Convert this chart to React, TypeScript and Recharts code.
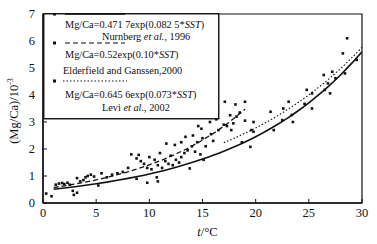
import React from 'react';
import { ComposedChart, Line, Scatter, XAxis, YAxis, ReferenceArea, Legend } from 'recharts';

const FONT = '"Liberation Serif", "DejaVu Serif", serif';

const xTicks = [0, 5, 10, 15, 20, 25, 30];
const yTicks = [0, 1, 2, 3, 4, 5, 6, 7];

// Nurnberg et al., 1996 (solid)
const nurnbergT = [1, 2, 3, 4, 5, 6, 7, 8, 9, 10, 11, 12, 13, 14, 15, 16, 17, 18, 19, 20, 21, 22, 23, 24, 25, 26, 27, 28, 29, 30];
const nurnbergMgCa = [0.512, 0.556, 0.604, 0.656, 0.713, 0.774, 0.84, 0.913, 0.991, 1.076, 1.169, 1.27, 1.379, 1.497, 1.626, 1.766, 1.918, 2.083, 2.262, 2.456, 2.667, 2.897, 3.146, 3.416, 3.71, 4.029, 4.376, 4.752, 5.161, 5.604];

// Elderfield and Ganssen, 2000 (dashed)
const elderfieldT = [1, 2, 3, 4, 5, 6, 7, 8, 9, 10, 11, 12, 13, 14, 15, 16, 17, 18, 19];
const elderfieldMgCa = [0.575, 0.635, 0.702, 0.776, 0.857, 0.948, 1.047, 1.157, 1.279, 1.414, 1.562, 1.726, 1.908, 2.109, 2.331, 2.576, 2.847, 3.146, 3.477];

// Levi et al., 2002 (dotted)
const leviT = [17, 18, 19, 20, 21, 22, 23, 24, 25, 26, 27, 28, 29, 30];
const leviMgCa = [2.233, 2.402, 2.584, 2.78, 2.99, 3.217, 3.461, 3.723, 4.004, 4.308, 4.634, 4.985, 5.363, 5.769];

// observations
const obsT = [0.3, 0.8, 1.2, 1.5, 1.8, 2.0, 2.3, 2.5, 2.8, 2.9, 3.2, 3.2, 3.5, 3.8, 4.0, 4.2, 4.5, 4.8, 5.2, 5.5, 6.0, 6.5, 7.0, 7.5, 8.0, 8.3, 8.8, 8.8, 9.0, 9.2, 9.5, 9.8, 9.8, 10.0, 10.2, 10.5, 10.7, 10.8, 10.8, 11.0, 11.2, 11.5, 11.6, 11.8, 12.0, 12.2, 12.4, 12.5, 12.8, 13.0, 13.0, 13.3, 13.4, 13.6, 13.8, 14.0, 14.1, 14.3, 14.5, 14.6, 14.8, 14.9, 15.0, 15.1, 15.3, 15.7, 15.8, 16.0, 16.3, 16.5, 17.0, 17.1, 17.3, 17.6, 17.7, 17.9, 18.1, 18.2, 18.5, 18.7, 19.0, 19.0, 19.5, 19.6, 19.8, 19.8, 21.4, 21.7, 22.5, 22.6, 23.1, 23.4, 23.5, 24.6, 24.8, 25.3, 25.3, 26.4, 26.5, 26.8, 27.0, 27.2, 27.5, 28.2, 28.4, 28.6, 29.5];
const obsMgCa = [0.35, 0.25, 0.68, 0.72, 0.74, 0.7, 0.75, 0.68, 0.45, 0.3, 0.38, 0.92, 0.8, 0.85, 0.95, 1.0, 1.05, 0.98, 0.65, 1.1, 0.95, 1.05, 1.1, 1.15, 1.3, 1.8, 0.9, 1.65, 1.78, 1.55, 1.45, 0.75, 1.3, 1.7, 1.25, 1.6, 0.95, 0.8, 1.4, 1.85, 1.3, 1.55, 2.2, 1.45, 1.75, 1.4, 2.15, 1.6, 1.5, 2.25, 1.7, 1.85, 2.45, 1.95, 1.28, 2.1, 2.5, 1.9, 2.25, 2.85, 1.8, 2.75, 2.4, 1.6, 2.1, 3.0, 2.55, 2.3, 3.1, 2.7, 2.9, 3.75, 2.85, 3.25, 2.7, 2.95, 3.65, 3.2, 3.35, 2.25, 3.75, 3.05, 2.08, 2.7, 2.64, 3.0, 3.38, 2.7, 3.07, 3.5, 3.75, 3.26, 3.0, 3.67, 4.19, 4.06, 3.5, 4.74, 4.19, 4.43, 4.06, 4.86, 4.62, 5.54, 4.8, 6.1, 5.3];

const legendEq = ['Mg/Ca=0.471 7exp(0.082 5*', 'Mg/Ca=0.52exp(0.10*', 'Mg/Ca=0.645 6exp(0.073*'];
const legendRef = ['Nurnberg ', 'Elderfield and Ganssen,2000', 'Levi '];
const legendRefTail = [', 1996', '', ', 2002'];

const toPts = (xs: number[], ys: number[]) => xs.map((t, i) => ({ t, v: ys[i] }));
const nurnbergData = toPts(nurnbergT, nurnbergMgCa);
const elderfieldData = toPts(elderfieldT, elderfieldMgCa);
const leviData = toPts(leviT, leviMgCa);
const obsData = toPts(obsT, obsMgCa);

const Square = (props: any) => {
  const { cx, cy } = props;
  if (cx == null || cy == null) return null;
  return <rect x={cx - 1.3} y={cy - 1.3} width={2.6} height={2.6} fill="#111" />;
};

const renderLegend = () => {
  const rows = [
    { my: 1, dash: undefined as string | undefined, sw: 1.6, ey: 11, ry: 23, rx: 59, x1: 22, x2: 82 },
    { my: 30, dash: '5 3', sw: 1.2, ey: 41, ry: 57, rx: 20, x1: 22, x2: 82 },
    { my: 68, dash: '1.5 2', sw: 1, ey: 81, ry: 94, rx: 59, x1: 20, x2: 84 },
  ];
  return (
    <svg width={177} height={107} style={{ display: 'block' }}>
      <rect x={0.75} y={0.75} width={175} height={105} fill="#fff" stroke="#111" strokeWidth={1.4} />
      {rows.map((r, i) => (
        <g key={i} fontFamily={FONT} fontSize={10.3} fill="#111">
          <rect x={10} y={r.my - 1.5} width={3} height={3} fill="#111" />
          <line x1={r.x1} x2={r.x2} y1={r.my} y2={r.my} stroke="#111" strokeWidth={r.sw} strokeDasharray={r.dash} />
          <text x={22} y={r.ey} dominantBaseline="central">
            {legendEq[i]}
            <tspan fontStyle="italic">SST</tspan>)
          </text>
          <text x={r.rx} y={r.ry} dominantBaseline="central">
            {legendRef[i]}
            {legendRefTail[i] ? <tspan fontStyle="italic">et al.</tspan> : null}
            {legendRefTail[i]}
          </text>
        </g>
      ))}
    </svg>
  );
};

const XTitle = (props: any) => {
  const vb = props.viewBox || { x: 43, y: 203, width: 319, height: 30 };
  return (
    <text x={vb.x + vb.width / 2 + 5} y={232} textAnchor="middle" dominantBaseline="central" fontFamily={FONT} fontSize={12.5} fill="#111">
      <tspan fontStyle="italic">t</tspan>/°C
    </text>
  );
};

const YTitle = () => (
  <text x={0} y={0} transform="translate(14,111) rotate(-90)" textAnchor="middle" dominantBaseline="central" fontFamily={FONT} fontSize={12.5} fill="#111">
    (Mg/Ca)/10<tspan dy={-4} fontSize={8}>-3</tspan>
  </text>
);

export default function App() {
  return (
    <div style={{ position: 'absolute', left: 0, top: 0, width: 377, height: 244, background: '#fff' }}>
      <ComposedChart width={377} height={244} margin={{ top: 14, right: 15, bottom: 11, left: 13 }}>
        <XAxis
          dataKey="t"
          type="number"
          domain={[0, 30]}
          ticks={xTicks}
          allowDataOverflow
          stroke="#111"
          tickSize={-4}
          tickMargin={9}
          height={30}
          tick={{ fontFamily: FONT, fontSize: 12.5, fill: '#111' }}
          axisLine={{ stroke: '#111', strokeWidth: 1.4 }}
          tickLine={{ stroke: '#111' }}
          label={<XTitle />}
        />
        <YAxis
          dataKey="v"
          type="number"
          domain={[0, 7]}
          ticks={yTicks}
          allowDataOverflow
          stroke="#111"
          tickSize={-4}
          tickMargin={12}
          width={30}
          tick={{ fontFamily: FONT, fontSize: 12.5, fill: '#111' }}
          axisLine={{ stroke: '#111', strokeWidth: 1.4 }}
          tickLine={{ stroke: '#111' }}
          label={<YTitle />}
        />
        <ReferenceArea x1={0} x2={30} y1={0} y2={7} fill="none" stroke="#111" strokeWidth={1.2} />
        <Scatter data={obsData} dataKey="v" shape={<Square />} isAnimationActive={false} />
        <Line data={nurnbergData} dataKey="v" type="monotone" stroke="#111" strokeWidth={1.6} dot={false} isAnimationActive={false} />
        <Line data={elderfieldData} dataKey="v" type="monotone" stroke="#111" strokeWidth={1.3} strokeDasharray="5 3" dot={false} isAnimationActive={false} />
        <Line data={leviData} dataKey="v" type="monotone" stroke="#111" strokeWidth={1.1} strokeDasharray="1.5 2" dot={false} isAnimationActive={false} />
        <Legend layout="horizontal" verticalAlign="middle" align="center" wrapperStyle={{ left: 43, top: 13, width: 177, height: 107 }} content={renderLegend} />
      </ComposedChart>
    </div>
  );
}
